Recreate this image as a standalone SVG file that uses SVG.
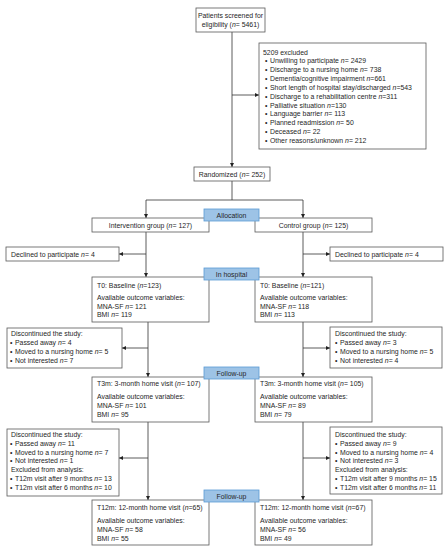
<svg xmlns="http://www.w3.org/2000/svg" width="448" height="550" viewBox="0 0 448 550">
<defs>
<marker id="ah" markerUnits="userSpaceOnUse" markerWidth="4" markerHeight="4" refX="4" refY="2" orient="auto">
<path d="M0,0 L4,2 L0,4 z" fill="#222"/>
</marker>
<style>
.box{fill:#fff;stroke:#595959;stroke-width:0.8}
.lab{fill:#9dc3e6;stroke:#5b9bd5;stroke-width:0.8}
text{font-family:"Liberation Sans",Arial,sans-serif;font-size:6.9px;fill:#262626}
.c{text-anchor:middle}
.i{font-style:italic}
.ln{fill:none;stroke:#333;stroke-width:0.8}
.ar{fill:none;stroke:#333;stroke-width:0.8;marker-end:url(#ah)}
</style>
</defs>
<rect width="448" height="550" fill="#fff"/>

<g id="connectors">
<path class="ar" d="M232,32 V167"/>
<path class="ar" d="M232,95 H259"/>
<path class="ln" d="M232,181 V200 M146,200 H303"/>
<path class="ar" d="M146,200 V218"/>
<path class="ar" d="M303,200 V218"/>
<path class="ar" d="M146,232 V277"/>
<path class="ar" d="M303,232 V277"/>
<path class="ar" d="M146,254 H119"/>
<path class="ar" d="M303,254 H330"/>
<path class="ar" d="M148,322 V377"/>
<path class="ar" d="M303,322 V377"/>
<path class="ar" d="M148,348 H122"/>
<path class="ar" d="M303,348 H330"/>
<path class="ar" d="M148,422 V500"/>
<path class="ar" d="M303,422 V500"/>
<path class="ar" d="M148,458 H119"/>
<path class="ar" d="M303,458 H330"/>
</g>

<g id="screened">
<rect class="box" x="196" y="8" width="69" height="24"/>
<text class="c" x="230.5" y="17.5">Patients screened for</text>
<text class="c" x="230.5" y="27">eligibility (<tspan class="i">n</tspan>= 5461)</text>
</g>

<g id="excluded">
<rect class="box" x="259" y="43" width="167" height="106"/>
<text x="263" y="54.5">5209 excluded</text>
<text x="265" y="63.3">•<tspan x="270">Unwilling to participate </tspan><tspan class="i">n</tspan>= 2429</text>
<text x="265" y="72.2">•<tspan x="270">Discharge to a nursing home </tspan><tspan class="i">n</tspan>= 738</text>
<text x="265" y="81">•<tspan x="270">Dementia/cognitive impairment </tspan><tspan class="i">n</tspan>=661</text>
<text x="265" y="89.9">•<tspan x="270">Short length of hospital stay/discharged </tspan><tspan class="i">n</tspan>=543</text>
<text x="265" y="98.7">•<tspan x="270">Discharge to a rehabilitation centre </tspan><tspan class="i">n</tspan>=311</text>
<text x="265" y="107.6">•<tspan x="270">Palliative situation </tspan><tspan class="i">n</tspan>=130</text>
<text x="265" y="116.4">•<tspan x="270">Language barrier </tspan><tspan class="i">n</tspan>= 113</text>
<text x="265" y="125.3">•<tspan x="270">Planned readmission </tspan><tspan class="i">n</tspan>= 50</text>
<text x="265" y="134.1">•<tspan x="270">Deceased </tspan><tspan class="i">n</tspan>= 22</text>
<text x="265" y="143">•<tspan x="270">Other reasons/unknown  </tspan><tspan class="i">n</tspan>= 212</text>
</g>

<g id="randomized">
<rect class="box" x="194" y="167" width="76" height="14"/>
<text class="c" x="232" y="176.5">Randomized (<tspan class="i">n</tspan>= 252)</text>
</g>

<g id="intervention">
<rect class="box" x="92" y="218" width="117" height="14"/>
<text class="c" x="150.5" y="228">Intervention group (<tspan class="i">n</tspan>= 127)</text>
</g>
<g id="control">
<rect class="box" x="255" y="218" width="117" height="14"/>
<text class="c" x="313.5" y="228">Control group (<tspan class="i">n</tspan>= 125)</text>
</g>
<g id="allocation">
<rect class="lab" x="204" y="209" width="55" height="12"/>
<text class="c" x="231.5" y="217.8">Allocation</text>
</g>

<g id="declined-left">
<rect class="box" x="6" y="247" width="113" height="14"/>
<text x="11" y="256.5">Declined to participate <tspan class="i">n</tspan>= 4</text>
</g>
<g id="declined-right">
<rect class="box" x="330" y="247" width="113" height="14"/>
<text x="335" y="256.5">Declined to participate <tspan class="i">n</tspan>= 4</text>
</g>

<g id="t0-left">
<rect class="box" x="92" y="277" width="117" height="45"/>
<text x="97" y="287.5">T0: Baseline (<tspan class="i">n</tspan>=123)</text>
<text x="97" y="299.5">Available outcome variables:</text>
<text x="97" y="308.5">MNA-SF <tspan class="i">n</tspan>= 121</text>
<text x="97" y="317">BMI <tspan class="i">n</tspan>= 119</text>
</g>
<g id="t0-right">
<rect class="box" x="255" y="277" width="117" height="45"/>
<text x="260" y="287.5">T0: Baseline (<tspan class="i">n</tspan>=121)</text>
<text x="260" y="299.5">Available outcome variables:</text>
<text x="260" y="308.5">MNA-SF <tspan class="i">n</tspan>= 118</text>
<text x="260" y="317">BMI <tspan class="i">n</tspan>= 113</text>
</g>
<g id="inhospital">
<rect class="lab" x="204" y="268" width="55" height="12"/>
<text class="c" x="231.5" y="276.8">In hospital</text>
</g>

<g id="disc1-left">
<rect class="box" x="7" y="328" width="115" height="40"/>
<text x="11" y="335.5">Discontinued the study:</text>
<text x="10" y="344.5">•<tspan x="15">Passed away </tspan><tspan class="i">n</tspan>= 4</text>
<text x="10" y="353.5">•<tspan x="15">Moved to a nursing home </tspan><tspan class="i">n</tspan>= 5</text>
<text x="10" y="362.5">•<tspan x="15">Not interested </tspan><tspan class="i">n</tspan>= 7</text>
</g>
<g id="disc1-right">
<rect class="box" x="330" y="327" width="112" height="41"/>
<text x="335" y="335.5">Discontinued the study:</text>
<text x="335" y="344.5">•<tspan x="340">Passed away </tspan><tspan class="i">n</tspan>= 3</text>
<text x="335" y="353.5">•<tspan x="340">Moved to a nursing home </tspan><tspan class="i">n</tspan>= 5</text>
<text x="335" y="362.5">•<tspan x="340">Not interested </tspan><tspan class="i">n</tspan>= 4</text>
</g>

<g id="t3m-left">
<rect class="box" x="92" y="377" width="117" height="45"/>
<text x="97" y="385.5">T3m: 3-month home visit  (<tspan class="i">n</tspan>= 107)</text>
<text x="97" y="398.5">Available outcome variables:</text>
<text x="97" y="407.5">MNA-SF <tspan class="i">n</tspan>= 101</text>
<text x="97" y="416.5">BMI <tspan class="i">n</tspan>= 95</text>
</g>
<g id="t3m-right">
<rect class="box" x="255" y="377" width="117" height="45"/>
<text x="260" y="385.5">T3m: 3-month home visit  (<tspan class="i">n</tspan>= 105)</text>
<text x="260" y="398.5">Available outcome variables:</text>
<text x="260" y="407.5">MNA-SF <tspan class="i">n</tspan>= 89</text>
<text x="260" y="416.5">BMI <tspan class="i">n</tspan>= 79</text>
</g>
<g id="followup1">
<rect class="lab" x="204" y="367" width="55" height="12"/>
<text class="c" x="231.5" y="375.8">Follow-up</text>
</g>

<g id="disc2-left">
<rect class="box" x="7" y="429" width="112" height="67"/>
<text x="11" y="436.5">Discontinued the study:</text>
<text x="10" y="445.5">•<tspan x="15">Passed away </tspan><tspan class="i">n</tspan>= 11</text>
<text x="10" y="454.5">•<tspan x="15">Moved to a nursing home </tspan><tspan class="i">n</tspan>= 7</text>
<text x="10" y="463">•<tspan x="15">Not interested </tspan><tspan class="i">n</tspan>= 1</text>
<text x="11" y="471.5">Excluded from analysis:</text>
<text x="10" y="480.5">•<tspan x="15">T12m visit after 9 months </tspan><tspan class="i">n</tspan>= 13</text>
<text x="10" y="489.5">•<tspan x="15">T12m visit after 6 months </tspan><tspan class="i">n</tspan>= 10</text>
</g>
<g id="disc2-right">
<rect class="box" x="330" y="427" width="112" height="67"/>
<text x="335" y="436.5">Discontinued the study:</text>
<text x="335" y="445.5">•<tspan x="340">Passed away </tspan><tspan class="i">n</tspan>= 9</text>
<text x="335" y="454.5">•<tspan x="340">Moved to a nursing home </tspan><tspan class="i">n</tspan>= 4</text>
<text x="335" y="463">•<tspan x="340">Not interested </tspan><tspan class="i">n</tspan>= 3</text>
<text x="335" y="471.5">Excluded from analysis:</text>
<text x="335" y="480.5">•<tspan x="340">T12m visit after 9 months </tspan><tspan class="i">n</tspan>= 15</text>
<text x="335" y="489.5">•<tspan x="340">T12m visit after 6 months </tspan><tspan class="i">n</tspan>= 11</text>
</g>

<g id="t12m-left">
<rect class="box" x="92" y="500" width="117" height="45"/>
<text x="97" y="509.5">T12m: 12-month home visit (<tspan class="i">n</tspan>=65)</text>
<text x="97" y="523">Available outcome variables:</text>
<text x="97" y="532">MNA-SF <tspan class="i">n</tspan>= 58</text>
<text x="97" y="540.5">BMI <tspan class="i">n</tspan>= 55</text>
</g>
<g id="t12m-right">
<rect class="box" x="255" y="500" width="117" height="45"/>
<text x="260" y="509.5">T12m: 12-month home visit (<tspan class="i">n</tspan>=67)</text>
<text x="260" y="523">Available outcome variables:</text>
<text x="260" y="532">MNA-SF <tspan class="i">n</tspan>= 56</text>
<text x="260" y="540.5">BMI <tspan class="i">n</tspan>= 49</text>
</g>
<g id="followup2">
<rect class="lab" x="204" y="490" width="55" height="12"/>
<text class="c" x="231.5" y="498.8">Follow-up</text>
</g>
</svg>
